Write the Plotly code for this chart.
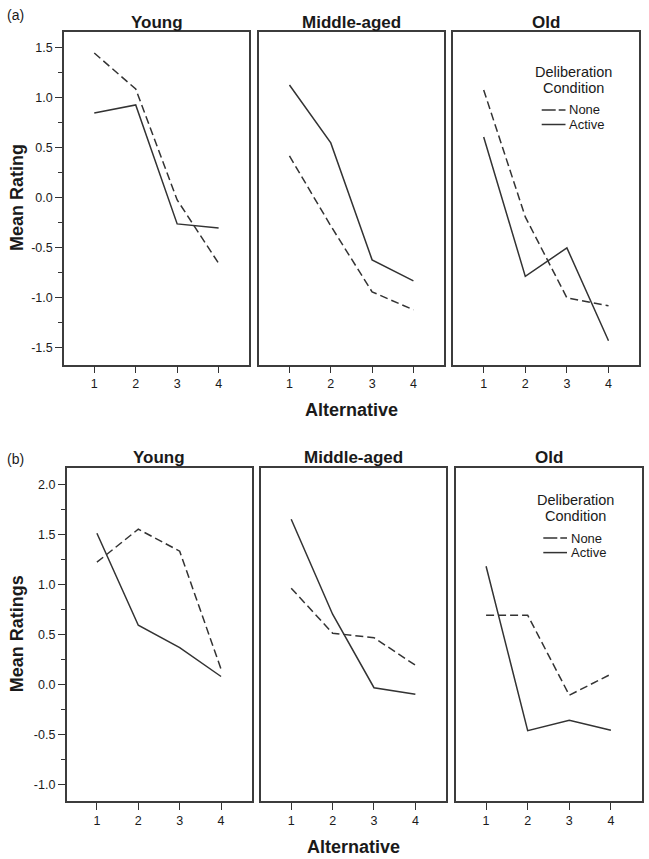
import plotly.graph_objects as go

# ---- data ----
alternatives = [1, 2, 3, 4]
groups = ["Young", "Middle-aged", "Old"]
conditions = ["None", "Active"]

# Panel (a): Mean Rating
a_none = {
    "Young": [1.45, 1.09, -0.02, -0.655],
    "Middle-aged": [0.42, -0.28, -0.94, -1.12],
    "Old": [1.08, -0.19, -1.00, -1.08],
}
a_active = {
    "Young": [0.85, 0.93, -0.26, -0.30],
    "Middle-aged": [1.13, 0.55, -0.62, -0.83],
    "Old": [0.61, -0.785, -0.50, -1.43],
}
a_yticks = [-1.5, -1.0, -0.5, 0.0, 0.5, 1.0, 1.5]

# Panel (b): Mean Ratings
b_none = {
    "Young": [1.22, 1.55, 1.33, 0.15],
    "Middle-aged": [0.96, 0.51, 0.465, 0.19],
    "Old": [0.69, 0.69, -0.11, 0.10],
}
b_active = {
    "Young": [1.51, 0.59, 0.365, 0.077],
    "Middle-aged": [1.65, 0.70, -0.035, -0.10],
    "Old": [1.18, -0.465, -0.36, -0.46],
}
b_yticks = [-1.0, -0.5, 0.0, 0.5, 1.0, 1.5, 2.0]

W, H = 649, 859
LINE = "#333333"
TXT = "#1a1a1a"
FONT = "Liberation Sans, Arial, sans-serif"

def px(x):
    return x / W

def py(y):
    return 1 - y / H

def fmt(v):
    return f"{v:.1f}"  # hyphen-minus like the original

rows = [
    dict(label="(a)", ytitle="Mean Rating", none=a_none, active=a_active, yticks=a_yticks,
         top=31.7, bottom=364.5, yr=[-1.667, 1.663],
         xs=[(64, 249.3), (259.3, 444), (453.3, 639.3)],
         lab_y=15, title_y=22.7, xt_y=410,
         leg=dict(cx=573.7, l1=72.3, l2=87.7, n=110, a=124.5, x0=541.7, x1=565.5)),
    dict(label="(b)", ytitle="Mean Ratings", none=b_none, active=b_active, yticks=b_yticks,
         top=467.7, bottom=800.7, yr=[-1.165, 2.165],
         xs=[(66.7, 251.7), (261, 446), (455.7, 641.7)],
         lab_y=459, title_y=457.7, xt_y=846.7,
         leg=dict(cx=575, l1=500.3, l2=515.8, n=538, a=552.6, x0=543.3, x1=567)),
]

fig = go.Figure()
layout = {}
annotations = []
shapes = []

k = 0
for r, row in enumerate(rows):
    for c, g in enumerate(groups):
        k += 1
        xa = "xaxis" if k == 1 else f"xaxis{k}"
        ya = "yaxis" if k == 1 else f"yaxis{k}"
        xref = "x" if k == 1 else f"x{k}"
        yref = "y" if k == 1 else f"y{k}"
        x0, x1 = row["xs"][c]
        layout[xa] = dict(
            domain=[px(x0), px(x1)], anchor=yref, range=[0.27, 4.74],
            tickvals=alternatives, ticktext=[str(v) for v in alternatives],
            ticks="outside", ticklen=7, tickwidth=1.3, tickcolor=LINE,
            showline=True, linecolor="#3c3c3c", linewidth=1.6, mirror=True,
            showgrid=False, zeroline=False,
            tickfont=dict(family=FONT, size=12.5, color=TXT),
        )
        yax = dict(
            domain=[py(row["bottom"]), py(row["top"])], anchor=xref, range=row["yr"],
            showline=True, linecolor="#3c3c3c", linewidth=1.6, mirror=True,
            showgrid=False, zeroline=False,
        )
        if c == 0:
            yax.update(dict(
                tickvals=row["yticks"], ticktext=[fmt(v) for v in row["yticks"]],
                ticks="outside", ticklen=7,
                tickwidth=1.3, tickcolor=LINE,
                tickfont=dict(family=FONT, size=12.5, color=TXT),
                minor=dict(dtick=0.25, tick0=0, ticks="outside", ticklen=4,
                           tickwidth=1.2, tickcolor=LINE, showgrid=False),
            ))
        else:
            yax.update(dict(showticklabels=False, ticks=""))
        layout[ya] = yax

        fig.add_trace(go.Scatter(
            x=alternatives, y=row["none"][g], mode="lines", name="None",
            line=dict(color=LINE, width=1.5, dash="8px,4px"),
            xaxis=xref, yaxis=yref, showlegend=False, hoverinfo="skip"))
        fig.add_trace(go.Scatter(
            x=alternatives, y=row["active"][g], mode="lines", name="Active",
            line=dict(color=LINE, width=1.5),
            xaxis=xref, yaxis=yref, showlegend=False, hoverinfo="skip"))

        # panel title
        annotations.append(dict(
            text=f"<b>{g}</b>", x=px((x0 + x1) / 2), y=py(row["title_y"]),
            xref="paper", yref="paper", showarrow=False, xanchor="center", yanchor="middle",
            font=dict(family=FONT, size=17, color=TXT)))

    # row label
    annotations.append(dict(
        text=row["label"], x=px(15), y=py(row["lab_y"]), xref="paper", yref="paper",
        showarrow=False, xanchor="center", yanchor="middle",
        font=dict(family=FONT, size=14, color=TXT)))
    # y title
    annotations.append(dict(
        text=f"<b>{row['ytitle']}</b>", x=px(17), y=py((row["top"] + row["bottom"]) / 2),
        xref="paper", yref="paper", showarrow=False, textangle=-90,
        xanchor="center", yanchor="middle", font=dict(family=FONT, size=18, color=TXT)))
    # x title
    mx0, mx1 = row["xs"][1]
    annotations.append(dict(
        text="<b>Alternative</b>", x=px((mx0 + mx1) / 2), y=py(row["xt_y"]),
        xref="paper", yref="paper", showarrow=False, xanchor="center", yanchor="middle",
        font=dict(family=FONT, size=18, color=TXT)))
    # legend
    L = row["leg"]
    for txt, yy in (("Deliberation", L["l1"]), ("Condition", L["l2"])):
        annotations.append(dict(
            text=txt, x=px(L["cx"]), y=py(yy), xref="paper", yref="paper",
            showarrow=False, xanchor="center", yanchor="middle",
            font=dict(family=FONT, size=14.5, color=TXT)))
    for txt, yy, dash in (("None", L["n"], "14px,3px"), ("Active", L["a"], "solid")):
        shapes.append(dict(type="line", xref="paper", yref="paper",
                           x0=px(L["x0"]), x1=px(L["x1"]), y0=py(yy), y1=py(yy),
                           line=dict(color=LINE, width=1.5, dash=dash)))
        annotations.append(dict(
            text=txt, x=px(L["x1"] + 1.5), y=py(yy), xref="paper", yref="paper",
            showarrow=False, xanchor="left", yanchor="middle",
            font=dict(family=FONT, size=13, color=TXT)))

fig.update_layout(
    width=W, height=H, margin=dict(l=0, r=0, t=0, b=0),
    paper_bgcolor="white", plot_bgcolor="white",
    annotations=annotations, shapes=shapes, showlegend=False,
    **layout,
)

fig.write_html(
    "out.html",
    config={"displayModeBar": False},
    post_script="document.body.style.margin='0';document.body.style.overflow='hidden';",
)
